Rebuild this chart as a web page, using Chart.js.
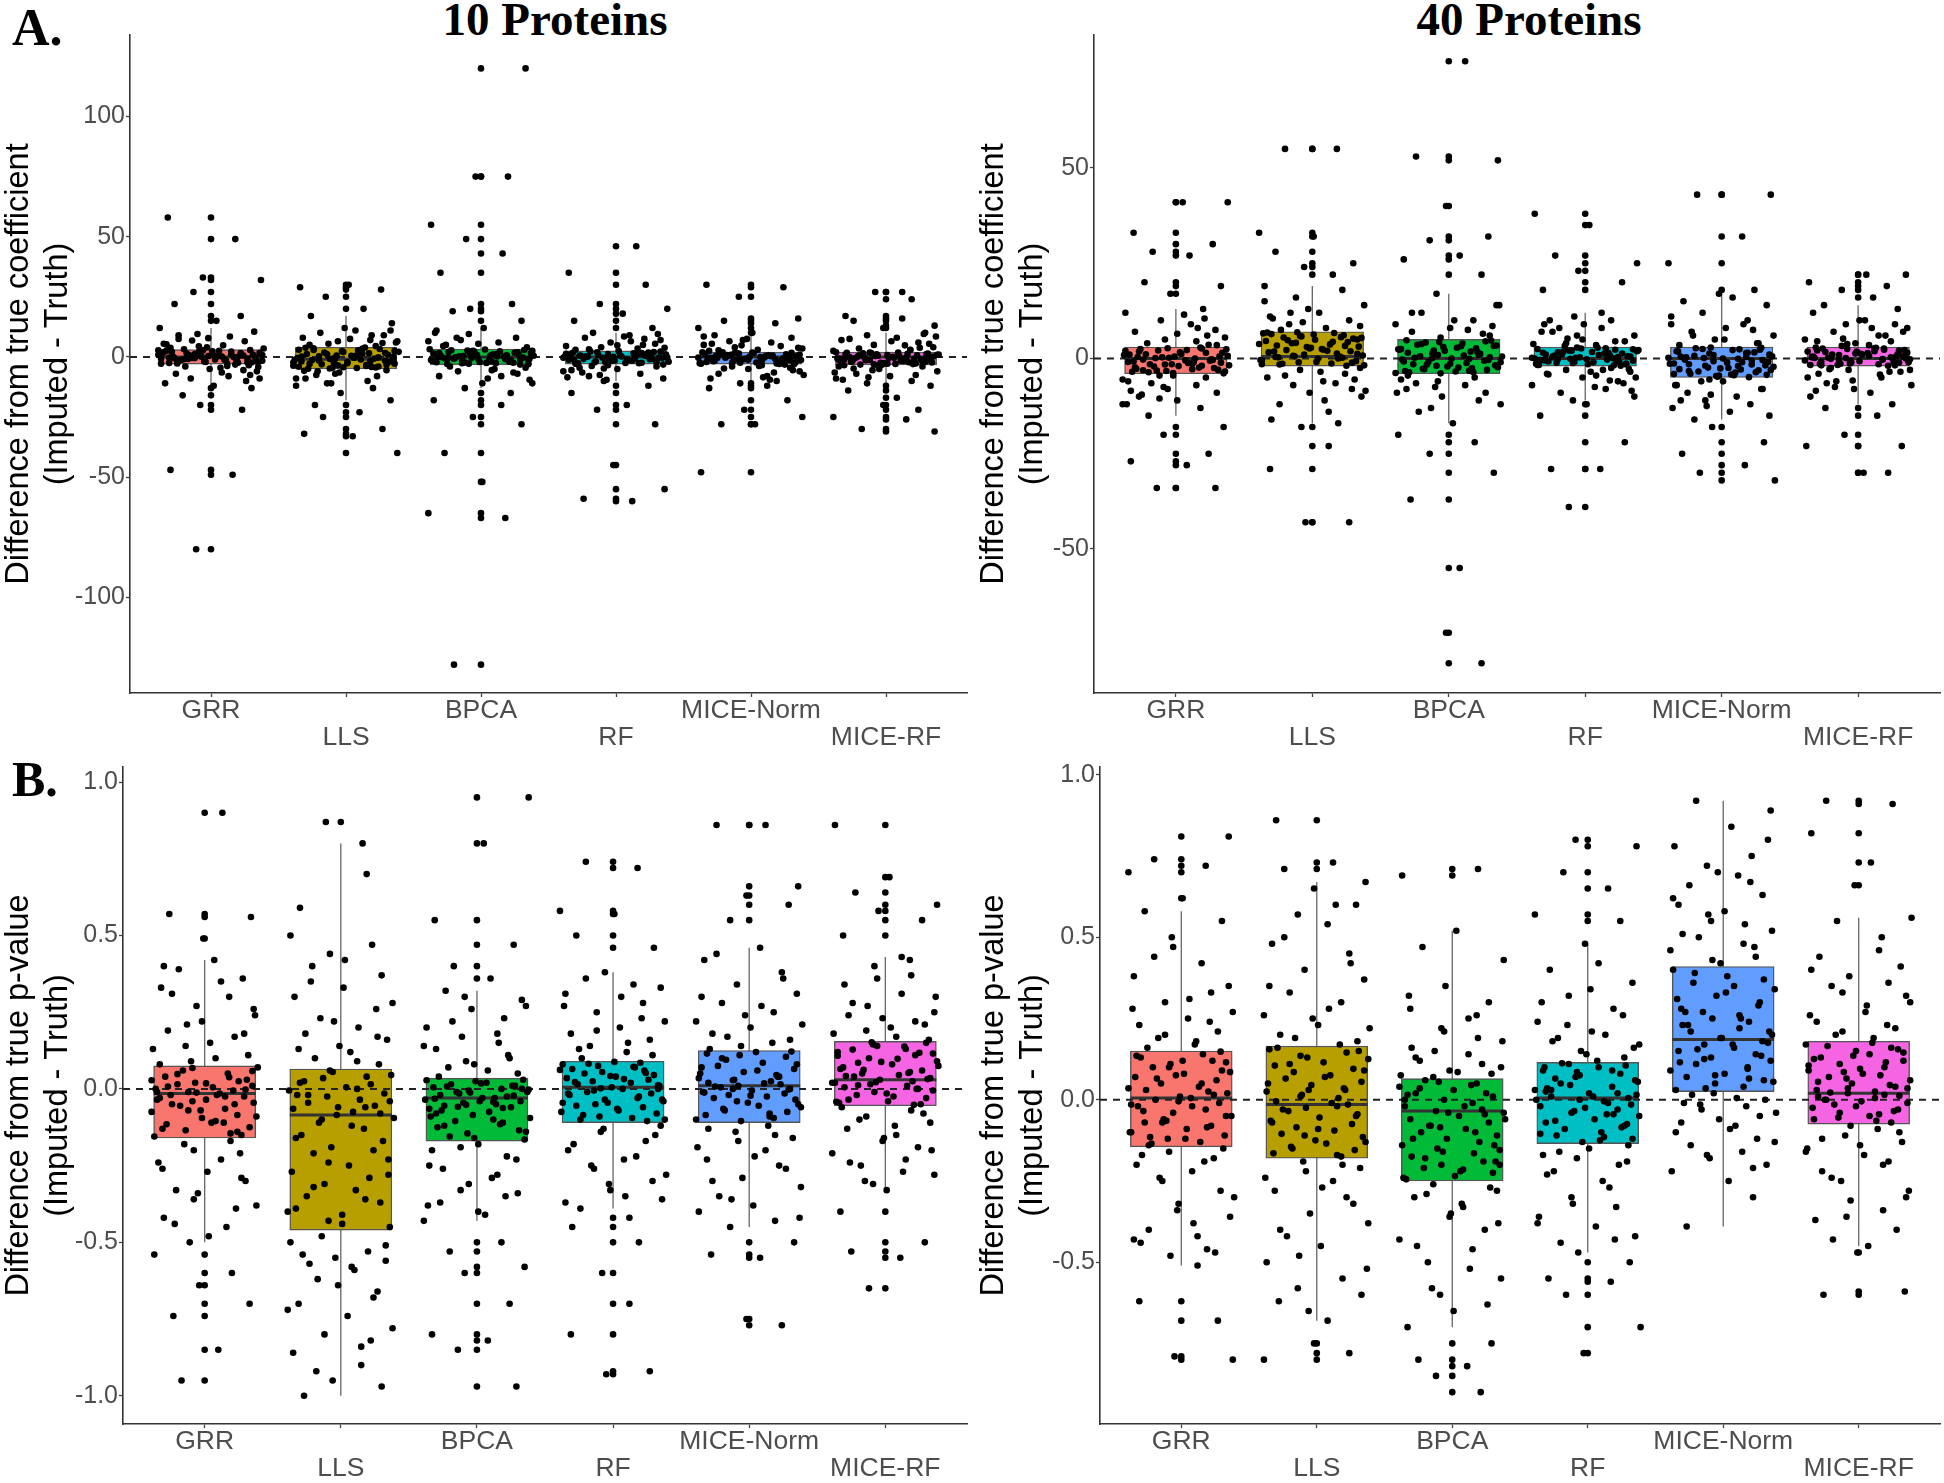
<!DOCTYPE html>
<html>
<head>
<meta charset="utf-8">
<script src="https://cdn.jsdelivr.net/npm/chart.js@4.4.1/dist/chart.umd.min.js"></script>
<style>
  body { margin: 0; background: #fff; width: 1944px; height: 1483px; position: relative; overflow: hidden; }
  canvas { position: absolute; }
  .lbl { position: absolute; font-family: "Liberation Serif", "Times New Roman", serif; font-weight: bold; line-height: 1; white-space: nowrap; color: #000; }
  .mid { transform: translateX(-50%); }
</style>
</head>
<body>
<div class="lbl" style="left:12px;top:2px;font-size:52px">A.</div>
<div class="lbl" style="left:12px;top:754px;font-size:50px">B.</div>
<div class="lbl mid" style="left:555px;top:-4px;font-size:47px">10 Proteins</div>
<div class="lbl mid" style="left:1529px;top:-4px;font-size:47px">40 Proteins</div>
<canvas id="c0" width="975" height="760" style="left:0;top:0"></canvas>
<canvas id="c1" width="969" height="760" style="left:975px;top:0"></canvas>
<canvas id="c2" width="975" height="723" style="left:0;top:760px"></canvas>
<canvas id="c3" width="969" height="723" style="left:975px;top:760px"></canvas>
<script>
// --- categories & colours (ggplot default hues) ---
const CATEGORIES = ['GRR', 'LLS', 'BPCA', 'RF', 'MICE-Norm', 'MICE-RF'];
const COLORS = ['#F8766D', '#B79F00', '#00BA38', '#00BFC4', '#619CFF', '#F564E3'];
const TITLE_COEF = ['Difference from true coefficient', '(Imputed - Truth)'];
const TITLE_PVAL = ['Difference from true p-value', '(Imputed - Truth)'];

// horizontal jitter offsets (category units)
const JITTER = [0.12,-0.31,0.27,-0.05,0.38,-0.22,0.03,-0.37,0.19,-0.14,0.33,-0.28,0.08,-0.02,0.24,-0.39,0.15,-0.18,0.36,-0.09,
  0.01,-0.33,0.29,-0.25,0.11,-0.12,0.21,-0.36,0.06,0.35,-0.2,-0.07,0.31,-0.29,0.17,-0.16,0.39,-0.03,0.09,-0.35,
  0.25,-0.24,0.14,-0.1,0.32,-0.38,0.04,0.22,-0.27,-0.13,0.37,-0.06,0.18,-0.32,0.28,-0.19,0.07,-0.01,0.34,-0.26,
  0.13,-0.15,0.26,-0.34,0.02,0.3,-0.21,-0.08,0.23,-0.3,0.16,-0.11,
  -0.37,0.2,-0.04,0.33,-0.23,0.1,-0.17,0.27,-0.31,0.05,0.38,-0.12,0.22,-0.35,0.15,-0.06,0.3,-0.27,0.01,-0.39,
  0.18,-0.2,0.35,-0.09,0.24,-0.33,0.08,-0.14,0.29,-0.02,0.36,-0.24,0.12,-0.3,0.19,-0.08];

// ===== A. coefficient, 10 proteins =====
const COEF10_Q1  = [-3, -5, -3.3, -3, -3, -3.3];
const COEF10_MED = [0, -1, 0, 0, 0, 0];
const COEF10_Q3  = [3, 4, 3.3, 2.5, 2, 2];
const COEF10_WLO = [-12, -18, -13, -10, -10, -11];
const COEF10_WHI = [12, 17, 12, 10, 9, 10];
const COEF10_GRR = [-2.9,-2.5,-2.2,-1.9,-1.6,-1.3,-1.1,-0.8,-0.6,-0.4,-0.2,0,0.2,0.4,0.6,0.9,1.1,1.4,1.7,2,2.3,2.6,2.9,-2.7,-1.5,-0.5,0.5,1.5,2.5,-2,-1,0.1,1,2.1,-0.1,0.7,
  3.5,4,4.8,5.5,6.5,7.5,8.5,9.5,10.5,12,15,17,22,27,32,33,49,58,
  -3.5,-4,-4.5,-5,-6,-7,-8,-9,-10,-11,-12,-13,-16,-20,-22,-47,-49,-80,
  -2.8,-2.4,-2.1,-1.8,-1.4,-1.2,-0.9,-0.7,-0.3,0.3,0.8,1.2,1.6,1.9,2.2,2.7,-2.3,-0.6,1.3,2.8,-3.2,3.2,-4.2,4.4,-5.5,5.2,-6.5,6.8,-7.5,7.8,-9,9,-3.8,3.8,-1.7,0.4];
const COEF10_LLS = [-4.9,-4.6,-4.3,-4,-3.7,-3.4,-3.1,-2.8,-2.5,-2.2,-1.9,-1.6,-1.3,-1.1,-0.9,-0.7,-0.5,-0.3,0,0.3,0.6,0.9,1.2,1.5,1.8,2.1,2.4,2.7,3,3.3,3.6,3.9,-4.5,-2,-1.2,0.5,
  4.5,5,5.5,6,6.5,7,8,9,10,11,12,14,17,20,25,28,29,30,
  -5.5,-6,-7,-8,-9,-10,-11,-12,-13,-15,-18,-20,-23,-25,-30,-32,-33,-40,
  -4.8,-4.4,-4.1,-3.8,-3.5,-3.2,-2.9,-2.6,-2.3,-1.8,-1.5,-1,-0.6,-0.2,0.2,0.7,1.1,1.6,2,2.5,2.9,3.4,3.8,-4.2,-0.8,1.3,-5.8,5.8,-6.5,6.5,-7.5,7.5,-9,9,-11,11];
const COEF10_BPCA = [-3.2,-2.9,-2.6,-2.3,-2,-1.7,-1.4,-1.1,-0.8,-0.5,-0.3,-0.1,0.1,0.3,0.5,0.8,1.1,1.4,1.7,2,2.3,2.6,2.9,3.2,-2.5,-1.5,-0.6,0.4,1.5,2.5,-1,0,1,-0.2,0.6,-2.1,
  4,5,6,7,8,10,12,15,19,20,22,35,43,49,55,75,75,120,
  -4,-5,-6,-7,-8,-9,-11,-13,-15,-18,-20,-25,-28,-40,-52,-65,-67,-128,
  -3.1,-2.8,-2.4,-2.2,-1.9,-1.6,-1.2,-0.9,-0.7,-0.4,0.2,0.45,0.7,0.95,1.2,1.6,1.9,2.2,2.5,2.8,3.1,-1.3,0.35,-2.6,-4.5,4.5,-5.5,5.5,-6.5,6.5,-8,8,-9.5,9.5,-11,11];
const COEF10_RF = [-2.9,-2.6,-2.3,-2,-1.7,-1.4,-1.2,-1,-0.8,-0.6,-0.4,-0.2,0,0.2,0.4,0.6,0.8,1,1.2,1.4,1.7,2,2.3,-2.5,-1.5,-0.5,0.5,1.5,-1.8,-0.1,0.9,2.4,-2.2,0.1,-0.7,1.1,
  3,3.5,4,4.5,5,6,7,8,9,10,12,15,18,20,22,30,35,46,
  -3.5,-4,-4.5,-5,-6,-7,-8,-9,-10,-12,-15,-20,-22,-28,-45,-55,-59,-60,
  -2.8,-2.4,-2.1,-1.6,-1.3,-0.9,-0.5,-0.3,0.3,0.7,1.3,1.6,1.9,2.2,-2.7,-1.1,0.05,1.8,-0.35,0.85,-3.8,3.8,-4.8,4.8,-5.5,5.5,-6.5,6.5,-7.5,7.5,-8.5,8.5,-3.2,3.2,-9.5,9.5];
const COEF10_MNORM = [-2.9,-2.6,-2.3,-2,-1.7,-1.5,-1.3,-1.1,-0.9,-0.7,-0.5,-0.3,-0.1,0.1,0.3,0.5,0.7,0.9,1.1,1.3,1.5,1.7,1.9,-2.4,-1.4,-0.4,0.6,1.6,-2.8,-1.9,-0.8,0.2,1.2,-0.2,0.4,-1,
  2.5,3,3.5,4,4.5,5,6,7,8,9,10,12,14,15,16,25,29,30,
  -3.5,-4,-4.5,-5,-6,-7,-8,-9,-10,-11,-12,-13,-18,-22,-25,-28,-28,-48,
  -2.7,-2.5,-2.2,-1.8,-1.6,-1.2,-0.6,-0.3,0.25,0.8,1,1.4,1.8,-2.1,-1.35,-0.45,0.45,1.7,-2.95,1.95,-3.8,3.8,-4.8,4.8,-5.5,5.5,-6.5,6.5,-7.5,7.5,-8.5,8.5,-3.2,2.8,-9.5,-1.05];
const COEF10_MRF = [-3.2,-2.9,-2.6,-2.3,-2,-1.7,-1.4,-1.1,-0.8,-0.5,-0.2,0.1,0.4,0.7,1,1.3,1.6,1.9,-3,-2.5,-1.5,-0.6,0.3,1.5,-1.9,-1,0,0.9,1.8,-2.7,-1.2,-0.3,0.5,1.2,-0.1,0.8,
  2.5,3,3.5,4,5,6,7,8,9,10,12,13,15,16,17,24,27,27,
  -3.5,-4,-5,-6,-7,-8,-9,-10,-11,-12,-14,-17,-20,-22,-25,-26,-30,-31,
  -3.1,-2.8,-2.4,-2.1,-1.8,-1.6,-1.3,-0.9,-0.7,-0.4,0.2,0.6,1.1,1.4,1.7,-2.2,-0.15,0.95,-3.25,1.85,-4,3.8,-4.8,4.8,-5.5,5.5,-6.5,6.5,-7.5,7.5,-8.5,8.5,-3.6,2.9,-9.5,9.5];

// ===== A. coefficient, 40 proteins =====
const COEF40_Q1  = [-4, -2, -4, -2, -5, -2];
const COEF40_MED = [0, 0.5, 0, 0, 0, 0];
const COEF40_Q3  = [3, 7, 5, 3, 3, 3];
const COEF40_WLO = [-15, -17, -17, -11, -16, -12];
const COEF40_WHI = [13, 19, 17, 12, 17, 14];
const COEF40_GRR = [-3.9,-3.6,-3.3,-3,-2.7,-2.4,-2.1,-1.8,-1.5,-1.2,-0.9,-0.6,-0.3,0,0.3,0.6,0.9,1.2,1.5,1.8,2.1,2.4,2.7,2.9,-3.5,-2.5,-1.5,-0.5,0.5,1.5,2.5,-1,0.1,-0.2,1,-2,
  3.5,4,5,6,7,8,10,12,13,17,19,20,27,28,30,33,41,41,
  -4.5,-5,-6,-7,-8,-9,-10,-11,-12,-13,-15,-18,-20,-25,-27,-28,-34,-34,
  -3.8,-3.4,-3.1,-2.8,-2.3,-1.9,-1.6,-1.3,-0.8,-0.4,0.2,0.7,1.1,1.6,2,2.6,-3.2,-1.1,0.4,2.2,-4.5,3.6,-5.5,4.5,-6.5,5.5,-7.5,6.5,-8.5,7.5,-9.5,9,-10.5,10.5,-12,11.5];
const COEF40_LLS = [-1.9,-1.6,-1.3,-1,-0.7,-0.4,-0.1,0.2,0.4,0.6,0.8,1,1.3,1.6,1.9,2.2,2.5,2.8,3.1,3.4,3.7,4,4.3,4.6,4.9,5.2,5.5,5.8,6.1,6.4,6.7,6.9,-1.5,0.5,3,5,
  7.5,8,9,10,11,12,14,16,18,19,22,24,25,28,32,33,55,55,
  -2.5,-3,-4,-5,-6,-7,-8,-9,-10,-12,-14,-16,-17,-18,-23,-29,-43,-43,
  -1.8,-1.4,-0.9,-0.5,0,0.7,1.2,1.8,2.3,2.6,3.3,3.8,4.4,4.8,5.4,5.9,6.3,6.8,-1.1,0.3,2,4.1,5.6,6.6,-3.5,8.5,-4.5,9.5,-5.5,10.5,-6.5,12,-8.5,13,-11,15];
const COEF40_BPCA = [-3.9,-3.6,-3.3,-3,-2.7,-2.4,-2.1,-1.8,-1.5,-1.2,-0.9,-0.6,-0.3,0,0.3,0.6,0.9,1.2,1.5,1.8,2.1,2.4,2.7,3,3.3,3.6,3.9,4.2,4.5,4.8,-3.4,-1,0.1,1,2.5,-0.1,
  5.5,6,7,8,9,10,12,14,17,22,26,27,31,32,40,52,53,78,
  -4.5,-5,-6,-7,-8,-9,-10,-12,-14,-17,-20,-22,-25,-30,-37,-55,-72,-80,
  -3.8,-3.2,-2.8,-2.3,-1.9,-1.4,-0.8,-0.4,0.2,0.8,1.3,1.7,2.3,2.8,3.4,3.8,4.3,4.7,-3.6,-2.6,-1.6,0.5,2,3.2,-5.5,6.5,-6.5,7.5,-7.5,8.5,-9,10,-11,12,-13,14];
const COEF40_RF = [-1.9,-1.7,-1.5,-1.3,-1.1,-0.9,-0.7,-0.5,-0.3,-0.1,0,0.1,0.3,0.5,0.7,0.9,1.1,1.3,1.5,1.7,1.9,2.1,2.3,2.5,2.7,2.9,-1.6,-0.8,-0.2,0.2,0.8,1.6,2.4,-1.2,0.4,-0.4,
  3.5,4,4.5,5,6,7,8,9,10,11,12,18,20,23,25,27,35,38,
  -2.5,-3,-3.5,-4,-4.5,-5,-6,-7,-8,-9,-10,-11,-12,-15,-22,-29,-29,-39,
  -1.8,-1.4,-1,-0.6,-0.15,0.15,0.6,1,1.4,1.8,2.2,2.6,2.8,-1.7,-0.85,0.35,1.25,2.05,-2.8,3.8,-3.5,4.5,-4.2,5.2,-5,6,-5.8,7,-6.5,8,-7.5,9,-8.5,10,-3,3.3];
const COEF40_MNORM = [-4.9,-4.6,-4.3,-4,-3.7,-3.4,-3.1,-2.8,-2.5,-2.2,-1.9,-1.6,-1.3,-1,-0.7,-0.4,-0.2,0,0.2,0.4,0.7,1,1.3,1.6,1.9,2.2,2.5,2.8,-4.5,-3,-1.5,-0.1,0.5,1.5,2.9,-2,
  3.5,4,5,6,7,8,9,10,12,14,15,16,17,18,25,32,43,43,
  -5.5,-6,-7,-8,-9,-10,-11,-12,-13,-14,-15,-16,-18,-22,-25,-28,-30,-32,
  -4.8,-4.4,-4.1,-3.6,-3.3,-2.9,-2.4,-1.8,-1.4,-1.1,-0.6,-0.3,0.1,0.6,0.9,1.4,1.8,2.3,2.7,-4.2,-2.6,-0.9,0.3,2.4,-6,4,-7,5,-8,6,-9.5,7.5,-11,9,-12.5,11];
const COEF40_MRF = [-1.9,-1.7,-1.5,-1.3,-1.1,-0.9,-0.7,-0.5,-0.3,-0.1,0,0.1,0.3,0.5,0.7,0.9,1.1,1.3,1.5,1.7,1.9,2.1,2.3,2.5,2.7,2.9,-1.8,-1,-0.2,0.2,1,1.8,2.6,-0.6,0.6,-1.4,
  3.5,4,4.5,5,6,7,8,9,10,12,13,14,16,18,19,20,22,22,
  -2.5,-3,-3.5,-4,-5,-6,-7,-8,-9,-10,-12,-13,-15,-20,-23,-23,-30,-30,
  -1.8,-1.4,-1,-0.6,-0.15,0.15,0.6,1,1.4,1.8,2.2,2.6,2.8,-1.7,-0.85,0.35,1.25,2.05,-2.8,3.8,-3.5,4.5,-4.2,5.2,-5,6,-5.8,7,-6.5,8,-7.5,9,-8.5,10,-3,3.3];

// ===== B. p-value, 10 proteins =====
const PVAL10_Q1  = [-0.16, -0.46, -0.17, -0.11, -0.11, -0.055];
const PVAL10_MED = [-0.015, -0.085, -0.03, 0.005, 0.01, 0.03];
const PVAL10_Q3  = [0.075, 0.065, 0.035, 0.09, 0.125, 0.155];
const PVAL10_WLO = [-0.5, -1.0, -0.43, -0.39, -0.45, -0.33];
const PVAL10_WHI = [0.42, 0.8, 0.32, 0.38, 0.46, 0.43];
const PVAL10_GRR = [-0.155,-0.145,-0.135,-0.125,-0.115,-0.105,-0.095,-0.085,-0.075,-0.065,-0.055,-0.045,-0.04,-0.035,-0.03,-0.025,-0.02,-0.015,-0.01,-0.005,0,0.005,0.01,0.015,0.02,0.03,0.04,0.05,0.06,0.07,-0.07,-0.02,-0.01,0.025,-0.05,-0.11,
  0.09,0.11,0.13,0.15,0.17,0.19,0.21,0.24,0.27,0.3,0.33,0.36,0.39,0.42,0.49,0.56,0.57,0.9,
  -0.18,-0.21,-0.24,-0.27,-0.3,-0.33,-0.36,-0.39,-0.42,-0.45,-0.5,-0.54,-0.6,-0.64,-0.7,-0.74,-0.85,-0.95,
  -0.15,-0.13,-0.11,-0.09,-0.07,-0.05,-0.035,-0.025,-0.012,-0.002,0.008,0.018,0.028,0.038,0.048,0.058,0.068,-0.14,
  0.08,0.1,0.14,0.18,0.22,0.26,0.31,0.35,0.4,-0.17,-0.2,-0.23,-0.26,-0.29,-0.34,-0.38,-0.44,-0.48];
const PVAL10_LLS = [-0.45,-0.43,-0.41,-0.39,-0.37,-0.35,-0.33,-0.31,-0.29,-0.27,-0.25,-0.23,-0.21,-0.19,-0.17,-0.15,-0.13,-0.11,-0.095,-0.085,-0.075,-0.065,-0.055,-0.045,-0.035,-0.025,-0.015,-0.005,0.005,0.015,0.025,0.035,0.045,0.055,-0.06,-0.02,
  0.08,0.1,0.12,0.14,0.16,0.18,0.2,0.23,0.26,0.3,0.33,0.37,0.4,0.44,0.47,0.59,0.8,0.87,
  -0.5,-0.53,-0.55,-0.56,-0.57,-0.59,-0.62,-0.66,-0.7,-0.74,-0.78,-0.8,-0.82,-0.86,-0.9,-0.95,-0.97,-1.0,
  -0.44,-0.4,-0.36,-0.32,-0.28,-0.24,-0.2,-0.16,-0.12,-0.1,-0.08,-0.06,-0.04,-0.02,0,0.02,0.04,0.06,
  0.09,0.13,0.17,0.22,0.28,0.35,0.42,0.5,0.7,-0.48,-0.51,-0.54,-0.58,-0.64,-0.68,-0.72,-0.84,-0.92];
const PVAL10_BPCA = [-0.165,-0.155,-0.145,-0.135,-0.125,-0.115,-0.105,-0.095,-0.085,-0.075,-0.065,-0.06,-0.055,-0.05,-0.045,-0.04,-0.035,-0.03,-0.025,-0.02,-0.015,-0.01,-0.005,0,0.005,0.01,0.015,0.02,0.025,0.03,-0.07,-0.03,-0.01,0.01,-0.09,-0.04,
  0.05,0.07,0.09,0.11,0.13,0.15,0.17,0.2,0.23,0.26,0.29,0.32,0.36,0.4,0.47,0.55,0.8,0.95,
  -0.19,-0.22,-0.25,-0.28,-0.31,-0.34,-0.37,-0.4,-0.43,-0.5,-0.53,-0.58,-0.6,-0.7,-0.8,-0.82,-0.85,-0.97,
  -0.16,-0.14,-0.12,-0.1,-0.08,-0.062,-0.052,-0.042,-0.032,-0.022,-0.012,-0.002,0.008,0.018,0.028,-0.11,-0.058,0,
  0.04,0.06,0.08,0.1,0.14,0.18,0.22,0.27,0.3,-0.18,-0.2,-0.23,-0.26,-0.29,-0.33,-0.35,-0.38,-0.41];
const PVAL10_RF = [-0.105,-0.1,-0.095,-0.09,-0.08,-0.075,-0.07,-0.06,-0.055,-0.05,-0.04,-0.035,-0.03,-0.02,-0.015,-0.01,0,0.005,0.01,0.015,0.02,0.025,0.03,0.035,0.04,0.045,0.05,0.055,0.06,0.065,0.07,0.075,0.08,0.085,-0.045,0,
  0.1,0.12,0.14,0.16,0.18,0.2,0.22,0.25,0.28,0.31,0.34,0.38,0.46,0.5,0.57,0.58,0.72,0.74,
  -0.12,-0.14,-0.17,-0.2,-0.23,-0.26,-0.3,-0.33,-0.36,-0.39,-0.42,-0.45,-0.5,-0.6,-0.7,-0.8,-0.92,-0.93,
  -0.1,-0.085,-0.065,-0.045,-0.025,-0.005,0.012,0.022,0.032,0.042,0.052,0.062,0.072,0.082,-0.035,0.002,0.088,-0.015,
  0.11,0.13,0.15,0.19,0.23,0.27,0.3,0.33,0.36,-0.13,-0.15,-0.18,-0.22,-0.25,-0.28,-0.31,-0.35,-0.37];
const PVAL10_MNORM = [-0.105,-0.095,-0.085,-0.075,-0.065,-0.055,-0.045,-0.035,-0.03,-0.025,-0.02,-0.015,-0.01,-0.005,0,0.005,0.01,0.015,0.02,0.025,0.03,0.035,0.045,0.055,0.065,0.075,0.085,0.095,0.105,0.115,0.12,-0.06,0,0.04,0.07,-0.08,
  0.14,0.16,0.18,0.2,0.22,0.25,0.28,0.31,0.34,0.38,0.42,0.46,0.55,0.6,0.63,0.66,0.86,0.86,
  -0.13,-0.15,-0.17,-0.2,-0.23,-0.26,-0.29,-0.32,-0.35,-0.38,-0.4,-0.43,-0.45,-0.5,-0.54,-0.55,-0.75,-0.77,
  -0.1,-0.09,-0.07,-0.05,-0.04,-0.022,-0.012,-0.002,0.008,0.018,0.028,0.04,0.05,0.06,0.08,0.1,0.11,0.122,
  0.13,0.15,0.17,0.21,0.24,0.27,0.3,0.36,0.44,-0.12,-0.14,-0.16,-0.19,-0.22,-0.25,-0.3,-0.36,-0.42];
const PVAL10_MRF = [-0.05,-0.045,-0.04,-0.03,-0.02,-0.01,0,0.005,0.01,0.015,0.02,0.025,0.03,0.035,0.04,0.045,0.05,0.06,0.07,0.08,0.09,0.1,0.11,0.12,0.13,0.14,0.15,-0.035,-0.015,0.02,0.055,0.085,0.115,0.145,0,0.065,
  0.17,0.19,0.21,0.23,0.25,0.28,0.31,0.34,0.37,0.4,0.43,0.5,0.55,0.58,0.6,0.64,0.69,0.86,
  -0.07,-0.09,-0.11,-0.13,-0.15,-0.17,-0.19,-0.21,-0.23,-0.25,-0.28,-0.31,-0.33,-0.4,-0.5,-0.53,-0.55,-0.65,
  -0.052,-0.042,-0.025,-0.005,0.012,0.022,0.032,0.042,0.052,0.062,0.075,0.088,0.098,0.108,0.118,0.128,0.138,0.152,
  0.16,0.18,0.2,0.22,0.24,0.27,0.3,0.36,0.42,-0.06,-0.08,-0.1,-0.12,-0.16,-0.2,-0.24,-0.27,-0.3];

// ===== B. p-value, 40 proteins =====
const PVAL40_Q1  = [-0.145, -0.18, -0.25, -0.135, 0.025, -0.075];
const PVAL40_MED = [0.005, -0.015, -0.035, 0.005, 0.185, 0.02];
const PVAL40_Q3  = [0.15, 0.165, 0.065, 0.115, 0.41, 0.18];
const PVAL40_WLO = [-0.51, -0.68, -0.7, -0.47, -0.39, -0.45];
const PVAL40_WHI = [0.58, 0.67, 0.52, 0.48, 0.92, 0.56];
const PVAL40_GRR = [-0.14,-0.13,-0.12,-0.11,-0.1,-0.09,-0.08,-0.07,-0.06,-0.05,-0.04,-0.03,-0.02,-0.01,0,0.005,0.01,0.02,0.03,0.04,0.05,0.06,0.07,0.08,0.09,0.1,0.11,0.12,0.13,0.14,-0.065,-0.015,0.025,0.075,0.115,-0.115,
  0.17,0.19,0.21,0.23,0.25,0.27,0.3,0.33,0.38,0.42,0.47,0.55,0.58,0.62,0.7,0.72,0.74,0.81,
  -0.16,-0.18,-0.2,-0.22,-0.25,-0.28,-0.32,-0.36,-0.4,-0.42,-0.44,-0.46,-0.48,-0.51,-0.62,-0.68,-0.79,-0.8,
  -0.135,-0.12,-0.1,-0.085,-0.07,-0.05,-0.035,-0.02,-0.005,0.015,0.035,0.05,0.065,0.085,0.1,0.12,0.135,0.148,
  0.16,0.18,0.2,0.24,0.28,0.31,0.35,0.44,0.5,-0.15,-0.17,-0.19,-0.24,-0.3,-0.34,-0.38,-0.43,-0.47];
const PVAL40_LLS = [-0.175,-0.165,-0.155,-0.145,-0.135,-0.125,-0.115,-0.105,-0.095,-0.085,-0.075,-0.065,-0.055,-0.045,-0.035,-0.025,-0.015,-0.005,0.005,0.015,0.025,0.035,0.045,0.055,0.065,0.075,0.085,0.095,0.105,0.115,0.125,0.135,0.145,0.155,-0.02,0.03,
  0.18,0.2,0.23,0.26,0.3,0.33,0.37,0.4,0.45,0.48,0.54,0.57,0.6,0.65,0.67,0.71,0.73,0.86,
  -0.2,-0.22,-0.25,-0.28,-0.32,-0.35,-0.38,-0.42,-0.45,-0.5,-0.55,-0.58,-0.6,-0.62,-0.68,-0.75,-0.78,-0.8,
  -0.17,-0.15,-0.13,-0.11,-0.09,-0.07,-0.05,-0.03,-0.01,0.01,0.03,0.05,0.07,0.09,0.11,0.13,0.15,0.16,
  0.17,0.19,0.22,0.25,0.28,0.35,0.42,0.5,0.6,-0.19,-0.21,-0.24,-0.27,-0.3,-0.4,-0.48,-0.52,-0.65];
const PVAL40_BPCA = [-0.245,-0.235,-0.225,-0.21,-0.2,-0.19,-0.175,-0.165,-0.15,-0.14,-0.13,-0.12,-0.11,-0.1,-0.09,-0.08,-0.07,-0.06,-0.05,-0.04,-0.035,-0.03,-0.02,-0.01,0,0.01,0.02,0.03,0.04,0.05,0.06,-0.155,-0.085,-0.045,0.015,-0.215,
  0.07,0.08,0.09,0.1,0.12,0.14,0.16,0.19,0.22,0.25,0.28,0.3,0.35,0.43,0.47,0.52,0.69,0.71,
  -0.26,-0.28,-0.3,-0.33,-0.36,-0.4,-0.43,-0.46,-0.5,-0.55,-0.6,-0.65,-0.7,-0.75,-0.8,-0.82,-0.85,-0.9,
  -0.24,-0.22,-0.2,-0.18,-0.16,-0.14,-0.12,-0.1,-0.08,-0.06,-0.04,-0.02,0,0.02,0.035,0.045,0.055,-0.19,
  0.075,0.085,0.11,0.13,0.15,0.18,0.21,0.26,0.32,-0.27,-0.29,-0.32,-0.35,-0.38,-0.45,-0.52,-0.58,-0.63];
const PVAL40_RF = [-0.13,-0.12,-0.11,-0.1,-0.09,-0.08,-0.07,-0.06,-0.05,-0.04,-0.03,-0.02,-0.01,0,0.005,0.01,0.02,0.03,0.04,0.05,0.06,0.07,0.08,0.09,0.1,0.11,-0.075,-0.025,0.015,0.065,-0.115,0.035,-0.045,0.085,-0.005,0.025,
  0.13,0.15,0.17,0.19,0.21,0.24,0.28,0.32,0.36,0.4,0.42,0.48,0.55,0.57,0.65,0.7,0.78,0.8,
  -0.15,-0.17,-0.19,-0.22,-0.25,-0.3,-0.33,-0.36,-0.39,-0.42,-0.44,-0.47,-0.5,-0.55,-0.56,-0.6,-0.7,-0.78,
  -0.125,-0.105,-0.085,-0.065,-0.045,-0.035,-0.015,0,0.01,0.02,0.03,0.045,0.055,0.075,0.09,0.1,0.105,0.112,
  0.12,0.14,0.16,0.18,0.2,0.23,0.26,0.3,0.34,-0.14,-0.16,-0.18,-0.2,-0.23,-0.27,-0.32,-0.38,-0.43];
const PVAL40_MNORM = [0.03,0.04,0.05,0.06,0.07,0.08,0.09,0.1,0.11,0.12,0.13,0.14,0.15,0.16,0.17,0.18,0.19,0.2,0.21,0.22,0.23,0.24,0.25,0.26,0.28,0.3,0.32,0.34,0.36,0.38,0.4,0.065,0.125,0.175,0.27,0.35,
  0.42,0.44,0.46,0.48,0.5,0.52,0.55,0.58,0.6,0.63,0.66,0.69,0.72,0.75,0.78,0.84,0.89,0.92,
  0.02,0,-0.01,-0.02,-0.03,-0.04,-0.06,-0.08,-0.1,-0.12,-0.14,-0.16,-0.18,-0.2,-0.22,-0.25,-0.3,-0.39,
  0.035,0.055,0.075,0.095,0.115,0.135,0.155,0.17,0.19,0.21,0.23,0.25,0.27,0.29,0.31,0.33,0.37,0.39,
  0.43,0.47,0.51,0.54,0.57,0.62,0.67,0.7,0.8,0.015,0.005,-0.015,-0.05,-0.07,-0.09,-0.13,-0.17,-0.21];
const PVAL40_MRF = [-0.07,-0.06,-0.05,-0.04,-0.03,-0.02,-0.01,0,0.005,0.01,0.015,0.02,0.025,0.03,0.04,0.05,0.06,0.07,0.08,0.09,0.1,0.11,0.12,0.13,0.14,0.15,0.16,0.17,-0.045,-0.015,0.035,0.065,0.095,0.125,0.155,0,
  0.19,0.21,0.23,0.26,0.29,0.32,0.35,0.38,0.41,0.44,0.5,0.55,0.56,0.66,0.73,0.82,0.91,0.92,
  -0.09,-0.11,-0.13,-0.15,-0.17,-0.19,-0.22,-0.25,-0.28,-0.31,-0.34,-0.37,-0.4,-0.43,-0.45,-0.47,-0.59,-0.6,
  -0.065,-0.055,-0.035,-0.025,-0.005,0.012,0.022,0.035,0.045,0.055,0.075,0.085,0.105,0.115,0.135,0.145,0.165,0.175,
  0.2,0.22,0.24,0.27,0.3,0.33,0.36,0.4,0.46,-0.08,-0.1,-0.12,-0.14,-0.16,-0.2,-0.24,-0.3,-0.36];

// ===== panel layout (pixels) =====
const PANELS = [
  { id: 'c0', left: 0, top: 0, w: 975, h: 760, plotL: 130, plotR: 967, plotT: 35, plotB: 693,
    min: -139.8, max: 133.9, ticks: [-100, -50, 0, 50, 100], dec: 0, title: TITLE_COEF, shift: 0,
    q1: COEF10_Q1, med: COEF10_MED, q3: COEF10_Q3, wlo: COEF10_WLO, whi: COEF10_WHI,
    values: [COEF10_GRR, COEF10_LLS, COEF10_BPCA, COEF10_RF, COEF10_MNORM, COEF10_MRF] },
  { id: 'c1', left: 975, top: 0, w: 969, h: 760, plotL: 1094, plotR: 1942, plotT: 35, plotB: 693,
    min: -87.8, max: 84.9, ticks: [-50, 0, 50], dec: 0, title: TITLE_COEF, shift: 29,
    q1: COEF40_Q1, med: COEF40_MED, q3: COEF40_Q3, wlo: COEF40_WLO, whi: COEF40_WHI,
    values: [COEF40_GRR, COEF40_LLS, COEF40_BPCA, COEF40_RF, COEF40_MNORM, COEF40_MRF] },
  { id: 'c2', left: 0, top: 760, w: 975, h: 723, plotL: 123, plotR: 967, plotT: 767, plotB: 1424,
    min: -1.092, max: 1.049, ticks: [-1, -0.5, 0, 0.5, 1], dec: 1, title: TITLE_PVAL, shift: 7,
    q1: PVAL10_Q1, med: PVAL10_MED, q3: PVAL10_Q3, wlo: PVAL10_WLO, whi: PVAL10_WHI,
    values: [PVAL10_GRR, PVAL10_LLS, PVAL10_BPCA, PVAL10_RF, PVAL10_MNORM, PVAL10_MRF] },
  { id: 'c3', left: 975, top: 760, w: 969, h: 723, plotL: 1100, plotR: 1942, plotT: 767, plotB: 1424,
    min: -0.998, max: 1.024, ticks: [-0.5, 0, 0.5, 1], dec: 1, title: TITLE_PVAL, shift: 41,
    q1: PVAL40_Q1, med: PVAL40_MED, q3: PVAL40_Q3, wlo: PVAL40_WLO, whi: PVAL40_WHI,
    values: [PVAL40_GRR, PVAL40_LLS, PVAL40_BPCA, PVAL40_RF, PVAL40_MNORM, PVAL40_MRF] }
];

const SANS = '"Liberation Sans", Arial, sans-serif';

function drawPanel(p) {
	const boxW = (p.plotR - p.plotL) / 6.2 * 0.75;
	const points = [], boxes = [], medians = [], whiskers = [];
	p.values.forEach((vals, g) => {
		vals.forEach((y, k) => {
			points.push({ x: g + 1 + JITTER[(k + g * 11 + p.shift) % JITTER.length], y: y });
			// boxplot outliers sit on the centre line
			if (y > p.whi[g] || y < p.wlo[g]) points.push({ x: g + 1, y: y });
		});
		boxes.push({ x: g + 1, y: [p.q1[g], p.q3[g]] });
		medians.push({ x: g + 1 - 0.375, y: p.med[g] }, { x: g + 1 + 0.375, y: p.med[g] }, { x: g + 1, y: null });
		whiskers.push({ x: g + 1, y: p.wlo[g] }, { x: g + 1, y: p.whi[g] }, { x: g + 1, y: null });
	});

	new Chart(document.getElementById(p.id), {
		type: 'scatter',
		data: {
			datasets: [{
				type: 'scatter', data: points, pointRadius: 3.3,
				pointBackgroundColor: '#000', pointBorderWidth: 0, order: 1
			}, {
				type: 'line', data: [{ x: 0.4, y: 0 }, { x: 6.6, y: 0 }], borderColor: '#222',
				borderWidth: 2, borderDash: [7, 6], pointRadius: 0, order: 2
			}, {
				type: 'line', data: medians, borderColor: '#333', borderWidth: 3,
				pointRadius: 0, spanGaps: false, order: 3
			}, {
				type: 'bar', data: boxes, backgroundColor: COLORS, borderColor: '#555',
				borderWidth: 1.4, borderSkipped: false, barThickness: boxW, grouped: false, order: 4
			}, {
				type: 'line', data: whiskers, borderColor: '#666', borderWidth: 1.3,
				pointRadius: 0, spanGaps: false, order: 5
			}]
		},
		options: {
			responsive: false,
			animation: false,
			events: [],
			layout: { padding: { left: 0, top: p.plotT - p.top, right: p.left + p.w - p.plotR, bottom: 0 } },
			plugins: { legend: { display: false }, tooltip: { enabled: false } },
			scales: {
				x: {
					type: 'linear', min: 0.4, max: 6.6, offset: false,
					grid: { display: true, drawOnChartArea: false, offset: false, tickLength: 4, tickColor: '#444', tickWidth: 1.3 },
					border: { display: true, color: '#333', width: 1.6 },
					afterBuildTicks: s => { s.ticks = CATEGORIES.map((c, i) => ({ value: i + 1 })); },
					afterFit: s => { s.height = p.top + p.h - p.plotB; s.paddingLeft = 0; s.paddingRight = 0; },
					ticks: {
						autoSkip: false, maxRotation: 0, minRotation: 0, padding: 0,
						font: { family: SANS, size: 26.5, lineHeight: 1.02 }, color: '#4d4d4d',
						callback: v => {
							const name = CATEGORIES[Math.round(v) - 1];
							return (Math.round(v) % 2 === 1) ? [name, ''] : ['', name];
						}
					}
				},
				y: {
					type: 'linear', min: p.min, max: p.max,
					grid: { display: true, drawOnChartArea: false, tickLength: 4, tickColor: '#444', tickWidth: 1.3 },
					border: { display: true, color: '#333', width: 1.6 },
					afterBuildTicks: s => { s.ticks = p.ticks.map(v => ({ value: v })); },
					afterFit: s => { s.width = p.plotL - p.left; s.paddingTop = 0; s.paddingBottom = 0; },
					title: {
						display: true, text: p.title, color: '#000', padding: 0,
						font: { family: SANS, size: 32.5, lineHeight: 1.2 }
					},
					ticks: {
						padding: 1, font: { family: SANS, size: 25 }, color: '#4d4d4d',
						callback: v => p.dec ? v.toFixed(1) : String(v)
					}
				}
			}
		}
	});
}

PANELS.forEach(drawPanel);
</script>
</body>
</html>
